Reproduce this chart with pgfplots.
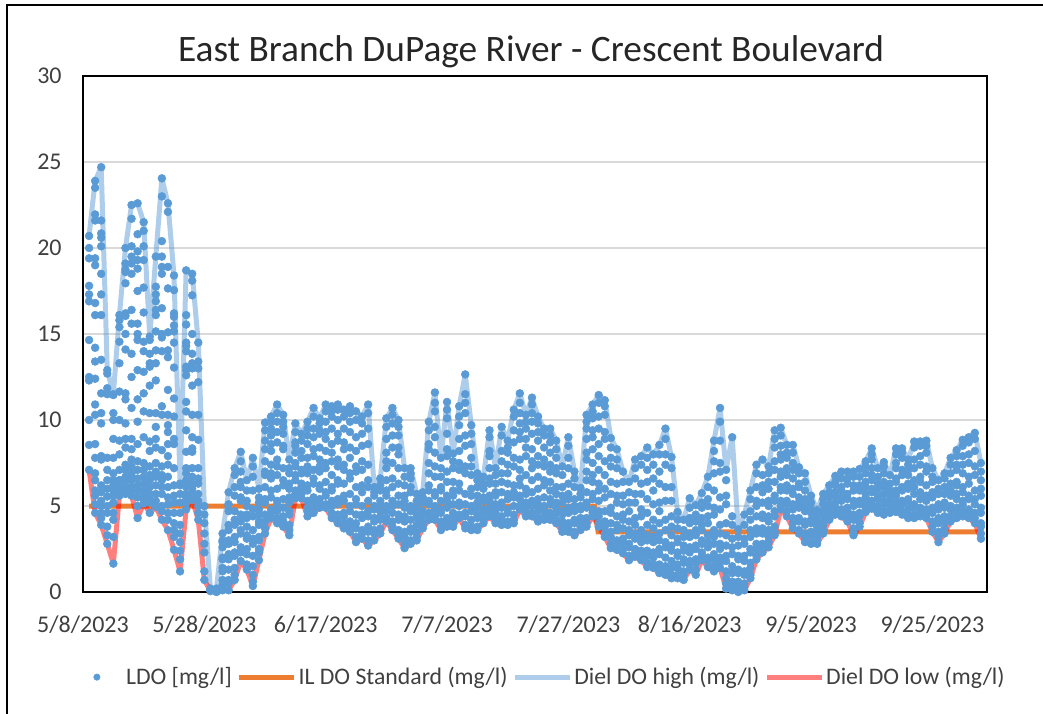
\documentclass[border=0pt]{standalone}
\usepackage{pgfplots}
\usepackage{pgfplotstable}
\usepackage{fontspec}
\setmainfont{Carlito}
\pgfplotsset{compat=1.18}
\definecolor{dots}{HTML}{5B9BD5}
\definecolor{std}{HTML}{ED7D31}
\definecolor{txt}{HTML}{404040}
\pgfplotstableread[header=false]{
1 20.7 7.1
2 23.9 4.6
3 24.7 3.9
4 12.9 2.8
5 11.5 1.65
6 16.1 5.6
7 20.0 5.7
8 22.5 5.6
9 22.6 4.3
10 21.5 5.15
11 14.85 4.6
12 19.5 4.95
13 24.05 4.2
14 22.6 3.6
15 18.4 2.45
16 6.3 1.2
17 18.7 4.8
18 18.5 5.35
19 14.5 4.2
20 5.0 0.7
21 0.2 0.05
22 0.2 0
23 3.4 0.1
24 5.8 0.1
25 7.2 0.7
26 8.15 1.8
27 6.5 1.3
28 7.8 0.35
29 6.0 1.85
30 9.85 3.4
31 10.2 4.3
32 10.9 4.0
33 10.3 3.8
34 7.7 3.3
35 9.8 5.45
36 9.2 5.45
37 9.9 4.4
38 10.7 4.6
39 10.1 4.9
40 10.9 4.9
41 10.8 4.3
42 10.9 4.0
43 10.6 3.7
44 10.8 3.5
45 10.5 2.9
46 10.2 3.1
47 10.9 2.7
48 6.1 3.0
49 6.6 3.4
50 10.1 4.1
51 10.7 3.6
52 10.0 3.1
53 7.2 2.55
54 7.2 2.8
55 5.7 3.0
56 5.8 3.7
57 9.9 4.2
58 11.6 4.2
59 7.8 3.6
60 11.05 3.8
61 8.05 3.8
62 10.8 4.3
63 12.65 3.7
64 9.7 3.6
65 6.9 3.6
66 6.7 4.0
67 9.4 4.4
68 7.2 4.0
69 9.6 3.9
70 8.8 3.9
71 10.6 4.0
72 11.55 4.8
73 10.3 4.4
74 11.3 4.4
75 10.2 4.1
76 9.5 4.2
77 9.5 4.2
78 8.8 4.0
79 7.3 3.5
80 9.0 3.5
81 7.0 3.3
82 6.05 3.6
83 10.3 3.8
84 10.9 4.4
85 11.45 3.8
86 11.15 3.2
87 8.95 2.55
88 8.3 2.45
89 7.0 2.25
90 6.4 1.85
91 7.7 2.05
92 7.9 1.85
93 8.4 1.45
94 8.0 1.4
95 8.55 1.1
96 9.5 1.0
97 7.85 0.8
98 4.65 0.8
99 4.2 0.7
100 5.45 1.3
101 5.05 1.0
102 5.75 1.85
103 6.7 1.45
104 8.8 1.2
105 10.7 1.4
106 7.1 0.2
107 9.0 0.1
108 3.65 0
109 4.5 0.1
110 5.9 0.8
111 7.4 1.9
112 7.7 2.3
113 7.3 2.6
114 9.4 3.3
115 9.55 4.8
116 8.55 4.4
117 8.55 3.7
118 7.25 3.4
119 6.9 2.9
120 5.6 2.8
121 4.75 2.8
122 5.7 3.4
123 6.2 4.2
124 6.75 4.5
125 7.0 4.4
126 7.0 4.1
127 7.0 3.3
128 7.15 3.8
129 7.6 4.65
130 8.35 4.85
131 7.2 4.6
132 7.55 4.5
133 6.8 4.6
134 8.35 4.65
135 8.35 4.5
136 7.7 4.3
137 8.75 4.3
138 8.75 4.4
139 8.8 4.3
140 7.2 3.5
141 6.5 2.9
142 6.9 3.4
143 7.8 4.1
144 8.25 4.3
145 8.85 4.4
146 9.0 4.3
147 9.25 4.0
148 7.5 3.1
}\tabHL
\pgfplotstableread[header=false]{
1 20.0 19.4 17.8 17.3 16.9 14.65 12.5 12.3 10.0 8.55 nan nan nan nan nan nan
2 23.5 21.95 21.6 19.4 19.0 16.8 16.1 14.2 13.4 12.4 10.9 10.3 8.6 7.8 6.5 5.6
3 21.6 20.85 20.6 20.1 18.5 17.3 16.1 13.5 11.55 10.4 9.8 7.9 7.7 6.2 5.3 4.6
4 12.7 11.85 11.5 7.8 6.5 5.55 4.6 3.8 3.3 nan nan nan nan nan nan nan
5 11.45 10.4 10 8.9 7.8 6.9 6.5 5.6 4.6 4.2 3.2 nan nan nan nan nan
6 15.8 15.4 14.55 13.3 11.65 10 8.8 8 6.5 6.1 nan nan nan nan nan nan
7 19.1 18.75 18.6 17.95 16.2 16.05 15 14.1 11.55 11.2 9.8 8.9 8.4 7.4 6.7 6.1
8 21.7 20.1 19.5 19.1 18.5 16.4 15.6 13.85 12.5 10.7 8.9 7.7 6.9 6.5 5.9 8.3
9 20.8 19.8 19.3 18.8 17.5 15.6 15 14.65 12.9 11.2 9.9 8.6 7.6 6.6 6.2 5.5
10 21 20.1 19.3 17.7 16.25 14.55 14 12.8 11.55 10.5 9 7.5 6.7 5.9 5.4 nan
11 14.65 13.85 13.3 13.1 12 10.4 8.75 8.2 7.3 6.5 5.7 5.2 nan nan nan nan
12 17.75 17.3 16.9 16.4 16.1 15.15 14.05 13.3 12.3 10.4 9.6 8.9 8.4 7.5 6.7 5.7
13 23 20.4 19.5 18.9 18.5 16.5 15 14.8 14 10.8 10.3 8.25 7.3 6.5 5.7 5.0
14 22.1 18.9 17.65 15.1 14.05 13.65 11.75 10.3 9.7 9.3 8.6 7.9 7.4 6.7 5.5 4.6
15 17.55 16.2 16 15.5 15.15 14.5 13.05 11.25 10.2 8.9 8.6 6.2 5.6 4.6 4 3.2
16 6.2 5.7 5.2 4.6 3.9 3.4 2.9 2.4 1.9 nan nan nan nan nan nan nan
17 16.1 15.55 14.5 14.3 14 13.1 12.9 12.6 11.05 10.5 9.4 8.15 7.2 6.5 5.7 5.2
18 18.1 17.25 15 13.85 13.3 13 12 10.3 9 8.35 8.15 7.2 6.3 5.7 nan nan
19 13.4 13 12.2 10.3 8.85 7.2 6.3 5.7 5 nan nan nan nan nan nan nan
20 4.5 4 3.4 2.8 2.3 1.2 nan nan nan nan nan nan nan nan nan nan
}\tabEarly
\pgfplotstableread[header=false]{
2 5.9 5.1 6.9
3 5.8 5.0 4.3
4 7.1 6.0 5.0
5 6.2 5.2 5.9
6 7.1 5.9 6.5
7 5.9 6.4 7.1
8 7.3 6.1 6.7
9 7.1 5.9 5.0
10 6.3 5.6 7.1
11 6.1 5.4 6.8
12 6.2 5.3 7.0
13 6.8 6.1 4.7
14 6.1 5.1 4.2
15 7.2 5.2 3.6
17 6.1 5.5 6.9
18 6.7 6.0 5.5
19 6.6 5.3 4.6
}\tabEarlyLow
\pgfplotstableread[header=false]{
21 .1 .1 .1 .1 nan nan nan nan nan nan nan nan
22 .1 .1 .1 .1 nan nan nan nan nan nan nan nan
23 .4 .7 1.2 1.4 1.9 2.0 2.6 2.9 3.0 nan nan nan
24 .5 .7 1.3 1.9 2.2 2.8 3.0 3.6 3.9 4.7 5.1 nan
25 1.0 1.4 2.1 2.3 2.9 3.2 3.9 4.2 4.7 5.6 6.1 6.8
26 2.3 2.6 3.4 3.6 4.1 4.5 5.3 5.5 6.1 6.4 7.0 7.6
27 1.6 2.2 2.5 3.1 3.3 3.8 4.3 4.5 5.0 5.3 5.9 nan
28 .6 1.0 1.5 2.1 2.8 3.1 3.6 4.4 4.8 5.9 6.7 7.3
29 2.3 2.5 3.0 3.2 3.9 4.1 4.5 4.8 5.2 5.5 nan nan
30 3.7 4.1 4.5 5.2 5.4 6.1 6.8 7.0 7.6 8.3 8.8 9.4
31 4.6 4.8 5.5 5.9 6.6 6.9 7.4 8.2 8.6 9.1 9.5 9.9
32 4.3 4.7 5.1 5.3 6.0 6.8 7.3 7.7 8.7 9.3 9.9 10.4
33 4.1 4.4 4.9 5.4 6.2 6.5 7.2 8.3 8.5 9.2 9.6 9.9
34 3.6 3.9 4.5 4.7 5.2 5.5 6.0 6.3 6.9 7.2 nan nan
35 5.7 5.9 6.5 6.8 7.3 7.5 8.1 8.5 8.7 9.3 nan nan
36 5.7 6.1 6.3 6.9 7.1 7.8 8.2 8.8 nan nan nan nan
37 4.7 4.9 5.3 5.9 6.2 6.9 7.3 7.8 8.6 9.1 9.5 nan
38 4.9 5.2 5.5 6.3 6.6 7.1 7.9 8.3 9.0 9.5 10.2 nan
39 5.1 5.4 6.0 6.2 7.0 7.3 7.7 8.4 9.2 9.4 9.8 nan
40 5.1 5.6 5.8 6.4 7.2 7.5 8.2 8.9 9.3 9.9 10.5 nan
41 4.6 5.0 5.3 5.9 6.1 6.8 7.6 8.1 8.6 9.5 10.2 10.5
42 4.3 4.5 5.1 5.4 6.3 6.5 7.3 7.7 8.8 9.2 10.0 10.6
43 4.0 4.4 4.6 5.3 5.6 6.3 7.1 7.4 8.3 8.7 9.5 10.2
44 3.9 4.1 4.7 5.0 5.7 6.6 6.9 7.8 8.4 9.3 9.9 10.4
45 3.2 3.7 4.0 4.5 5.1 5.4 6.1 7.0 7.3 8.2 9.0 10.0
46 3.4 3.6 4.3 4.5 5.0 5.8 6.2 7.1 7.6 8.5 9.2 9.8
47 3.0 3.5 3.8 4.4 4.7 5.3 6.1 6.5 7.4 8.6 9.5 10.4
48 3.4 3.6 4.1 4.3 4.8 5.0 5.6 5.8 nan nan nan nan
49 3.7 4.2 4.4 4.7 5.1 5.3 5.9 6.2 nan nan nan nan
50 4.3 4.7 5.0 5.6 5.9 6.5 7.2 7.6 8.1 8.9 9.6 nan
51 3.8 4.1 4.6 5.0 5.3 6.1 6.6 7.5 8.4 9.1 9.8 10.3
52 3.3 3.6 4.2 4.5 5.1 5.6 6.3 7.2 8.0 8.4 9.1 9.6
53 2.8 3.2 3.5 4.1 4.4 4.9 5.3 5.6 6.2 6.7 nan nan
54 3.0 3.5 3.7 4.2 4.7 5.0 5.8 6.1 6.6 6.9 nan nan
55 3.2 3.5 3.9 4.3 4.5 4.9 5.3 nan nan nan nan nan
56 3.9 4.1 4.5 4.7 5.2 5.5 nan nan nan nan nan nan
57 4.4 4.6 5.1 5.3 5.9 6.2 6.9 7.5 8.3 8.6 9.4 nan
58 4.4 4.8 5.0 5.6 5.8 6.7 7.3 8.1 9.0 9.6 10.5 11.0
59 3.9 4.1 4.6 4.8 5.3 5.9 6.1 6.7 7.2 nan nan nan
60 4.1 4.3 4.9 5.3 5.6 6.4 7.0 7.9 8.3 9.2 10.1 10.6
61 4.0 4.4 4.6 5.1 5.6 5.9 6.4 7.2 7.6 nan nan nan
62 4.5 5.0 5.2 5.9 6.3 7.1 7.5 8.2 8.9 9.7 10.2 nan
63 3.9 4.4 4.6 5.1 5.7 6.9 7.3 8.5 9.1 10.4 11.0 11.5
64 3.8 4.2 4.7 5.0 5.6 6.0 6.8 7.3 7.8 8.6 9.2 nan
65 3.8 4.3 4.5 4.9 5.2 5.6 6.1 6.5 nan nan nan nan
66 4.2 4.6 4.8 5.3 5.5 6.0 6.3 nan nan nan nan nan
67 4.6 4.9 5.3 5.6 6.3 6.6 7.2 7.9 8.2 9.0 nan nan
68 4.2 4.6 4.8 5.1 5.6 5.8 6.3 6.8 nan nan nan nan
69 4.1 4.4 4.9 5.2 5.8 6.4 6.9 7.6 8.2 9.1 nan nan
70 4.1 4.6 4.8 5.4 5.7 6.3 6.9 7.4 8.1 8.4 nan nan
71 4.2 4.5 5.0 5.5 5.8 6.2 7.3 7.8 8.7 9.4 10.2 nan
72 5.0 5.4 5.6 6.2 6.6 7.1 7.7 8.9 9.3 9.8 10.4 11.0
73 4.6 4.9 5.2 5.7 6.0 6.8 7.9 8.4 8.9 9.5 9.9 nan
74 4.6 5.0 5.3 5.8 6.5 7.2 7.6 8.3 9.2 9.9 10.4 10.9
75 4.3 4.7 5.1 5.4 6.0 6.7 7.4 7.9 8.8 9.3 9.8 nan
76 4.4 4.8 5.0 5.5 6.2 6.5 7.3 7.7 8.4 9.1 nan nan
77 4.4 4.6 5.1 5.4 5.9 6.4 7.0 7.4 8.1 8.7 9.1 nan
78 4.2 4.6 4.9 5.2 5.7 6.1 6.9 7.2 7.8 8.3 nan nan
79 3.7 4.1 4.5 4.7 5.2 5.6 6.1 6.8 nan nan nan nan
80 3.7 4.0 4.6 4.9 5.4 5.7 6.3 7.2 7.8 8.5 nan nan
81 3.5 4.0 4.2 4.7 5.0 5.4 6.1 6.6 nan nan nan nan
82 3.8 4.1 4.3 4.8 5.0 5.5 5.7 nan nan nan nan nan
83 4.0 4.3 4.9 5.2 5.8 6.5 7.0 7.7 8.1 8.9 9.5 9.9
84 4.6 4.8 5.4 5.7 6.4 6.8 7.5 8.3 9.0 9.4 10.1 10.5
85 4.0 4.4 4.7 5.3 5.9 6.3 7.1 7.9 8.6 9.5 10.2 11.0
86 3.4 3.8 4.1 4.7 5.5 6.0 6.8 7.6 8.9 9.3 10.3 10.8
87 2.8 3.2 3.5 4.0 4.6 4.9 5.7 6.4 7.3 7.8 8.4 nan
88 2.7 3.0 3.6 3.9 4.4 5.2 5.6 6.3 7.2 7.7 nan nan
89 2.5 2.9 3.1 3.7 4.2 4.5 5.1 5.6 6.4 nan nan nan
90 2.1 2.6 2.8 3.3 3.6 4.1 4.7 5.2 5.8 nan nan nan
91 2.3 2.5 3.1 3.4 3.9 4.3 5.2 5.7 6.6 7.2 nan nan
92 2.1 2.4 2.9 3.2 3.6 4.4 4.8 5.7 6.3 7.4 nan nan
93 1.7 2.1 2.4 3.0 3.3 3.9 4.6 5.4 6.4 7.1 7.8 nan
94 1.6 2.0 2.3 2.9 3.2 3.7 4.2 5.1 5.9 6.6 7.4 nan
95 1.3 1.6 2.2 2.5 3.0 3.4 4.0 4.7 5.2 6.3 7.0 8.0
96 1.2 1.5 2.0 2.6 2.9 3.6 4.2 5.3 6.1 7.4 8.0 8.9
97 1.0 1.4 1.8 2.4 2.7 3.3 3.8 4.4 5.3 6.1 7.2 nan
98 1.0 1.4 1.6 2.1 2.3 2.9 3.1 3.7 4.2 nan nan nan
99 1.0 1.2 1.7 1.9 2.4 2.7 3.2 3.6 nan nan nan nan
100 1.6 1.8 2.3 2.6 3.2 3.4 4.0 4.3 4.9 nan nan nan
101 1.3 1.7 1.9 2.5 2.7 3.3 3.6 4.1 4.5 nan nan nan
102 2.1 2.3 2.8 3.0 3.6 3.9 4.3 4.9 5.2 nan nan nan
103 1.8 2.0 2.6 2.9 3.3 4.0 4.4 5.0 5.4 6.1 nan nan
104 1.5 1.9 2.2 2.8 3.2 3.6 4.5 4.9 5.9 6.9 7.6 8.2
105 1.7 2.0 2.5 2.8 3.4 3.9 4.8 5.5 7.0 7.5 8.8 9.9
106 .5 .8 1.2 1.8 2.1 2.7 3.3 4.0 5.1 5.6 6.5 nan
107 .3 .6 1.1 1.5 2.2 2.6 3.1 3.9 4.4 nan nan nan
108 .2 .4 .6 1.1 1.3 1.9 2.1 2.7 3.2 nan nan nan
109 .3 .5 1.0 1.2 1.8 2.1 2.8 3.1 3.9 nan nan nan
110 1.0 1.4 1.7 2.3 2.5 3.2 3.6 4.2 4.7 5.4 nan nan
111 2.1 2.5 2.8 3.4 3.7 4.4 5.0 5.3 6.1 6.9 nan nan
112 2.6 2.8 3.4 3.7 4.3 4.5 5.2 5.8 6.2 6.8 nan nan
113 2.9 3.2 3.6 4.1 4.4 5.0 5.3 6.0 6.4 6.9 nan nan
114 3.5 3.8 4.4 4.7 5.3 5.6 6.4 7.1 7.6 8.4 8.9 nan
115 5.0 5.3 5.9 6.1 6.7 7.0 7.7 8.0 8.5 9.1 nan nan
116 4.7 5.1 5.3 5.9 6.2 6.8 7.2 7.8 8.1 nan nan nan
117 4.0 4.3 4.8 5.1 5.7 6.0 6.6 7.1 7.5 8.1 nan nan
118 3.6 4.1 4.3 4.9 5.2 5.5 6.1 6.3 6.9 nan nan nan
119 3.1 3.4 3.9 4.1 4.7 5.0 5.4 5.9 6.4 nan nan nan
120 2.9 3.3 3.5 4.0 4.2 4.6 4.8 5.2 nan nan nan nan
121 3.0 3.2 3.6 3.8 4.1 4.4 nan nan nan nan nan nan
122 3.6 3.9 4.1 4.5 4.7 5.1 5.4 nan nan nan nan nan
123 4.4 4.6 4.9 5.1 5.5 5.8 nan nan nan nan nan nan
124 4.7 4.9 5.2 5.6 5.8 6.2 6.4 nan nan nan nan nan
125 4.6 4.8 5.3 5.5 5.9 6.1 6.6 nan nan nan nan nan
126 4.3 4.7 4.9 5.4 5.7 6.3 6.6 nan nan nan nan nan
127 3.5 3.7 4.2 4.5 5.0 5.3 5.9 6.2 6.7 nan nan nan
128 4.0 4.4 4.6 5.1 5.3 5.9 6.2 6.7 nan nan nan nan
129 4.9 5.1 5.5 5.7 6.1 6.4 6.9 7.3 nan nan nan nan
130 5.1 5.3 5.8 6.0 6.5 6.8 7.2 7.7 8.0 nan nan nan
131 4.8 5.0 5.4 5.6 6.0 6.3 6.7 nan nan nan nan nan
132 4.7 5.1 5.3 5.7 6.1 6.4 6.9 7.3 nan nan nan nan
133 4.8 5.1 5.3 5.6 5.9 6.3 nan nan nan nan nan nan
134 4.9 5.2 5.6 5.9 6.4 6.6 7.2 7.5 8.0 nan nan nan
135 4.7 5.1 5.3 5.9 6.1 6.8 7.1 7.8 8.1 nan nan nan
136 4.5 4.8 5.2 5.4 6.0 6.3 6.8 7.1 7.4 nan nan nan
137 4.5 4.9 5.1 5.7 6.1 6.5 7.2 7.7 8.4 nan nan nan
138 4.6 4.9 5.4 5.8 6.4 6.7 7.4 7.9 8.5 nan nan nan
139 4.5 4.8 5.3 5.6 6.2 7.0 7.3 8.1 8.5 nan nan nan
140 3.8 4.1 4.6 4.9 5.5 5.8 6.4 6.7 nan nan nan nan
141 3.2 3.5 4.0 4.3 4.8 5.1 5.7 6.0 nan nan nan nan
142 3.7 4.1 4.4 4.9 5.2 5.7 6.1 6.6 nan nan nan nan
143 4.4 4.8 5.0 5.6 5.9 6.3 6.9 7.4 nan nan nan nan
144 4.6 4.9 5.4 5.7 6.2 6.4 7.1 7.4 7.9 nan nan nan
145 4.7 5.1 5.3 5.8 6.1 6.9 7.4 7.9 8.5 nan nan nan
146 4.6 4.8 5.4 5.6 6.3 6.7 7.5 8.0 8.7 nan nan nan
147 4.3 4.6 5.1 5.4 5.9 6.8 7.3 8.2 8.9 nan nan nan
148 3.4 3.8 4.0 4.6 4.9 5.6 6.0 6.5 7.0 nan nan nan
}\tabDots
\pgfplotstableread[header=false]{
1 5
84.3 5
84.9 3.5
147.5 3.5
}\tabStd
\begin{document}
\begin{tikzpicture}
\path[use as bounding box] (-62.25pt,-91.5pt) rectangle (720pt,444pt);
\begin{axis}[
  at={(0pt,0pt)}, anchor=south west,
  scale only axis, width=678pt, height=387pt,
  xmin=0, xmax=149, ymin=0, ymax=30,
  clip=false,
  xtick={0,20,40,60,80,100,120,140},
  xticklabels={5/8/2023,5/28/2023,6/17/2023,7/7/2023,7/27/2023,8/16/2023,9/5/2023,9/25/2023},
  ytick={0,5,10,15,20,25,30},
  major tick length=0pt,
  ymajorgrids,
  grid style={color=black!15, line width=1.6pt},
  axis line style={black, line width=1.5pt},
  tick label style={font=\fontsize{18}{20}\selectfont, text=txt, /pgf/number format/assume math mode=true},
  xticklabel style={yshift=-14.5pt},
  yticklabel style={xshift=-12.5pt},
  title={East Branch DuPage River - Crescent Boulevard},
  title style={at={(0.4956,1)}, anchor=center, yshift=12.5pt, font=\fontsize{28}{32}\selectfont, text=black!85},
  legend columns=4,
  legend style={at={(0.5034,-0.165)}, anchor=center, draw=none, fill=none,
    font=\fontsize{17.8}{20}\selectfont, text=txt, inner sep=0pt,
    nodes={inner xsep=1.5pt},
    /tikz/every even column/.append style={column sep=2.25pt}},
  legend cell align=left,
  legend image code/.code={\draw[#1] (0pt,0pt) -- (41pt,0pt);},
]
\addplot[forget plot, std, line width=3.75pt] table[x index=0,y index=1] \tabStd;
\addplot[forget plot, dots, opacity=0.5, line width=3.75pt, line join=round] table[x index=0,y index=1] \tabHL;
\addplot[forget plot, red, opacity=0.5, line width=3.75pt, line join=round] table[x index=0,y index=2] \tabHL;
\addplot[forget plot, only marks, mark=*, mark size=2.95pt, dots, mark options={draw=dots,fill=dots}] table[x index=0,y index=1] \tabHL;
\addplot[forget plot, only marks, mark=*, mark size=2.95pt, dots, mark options={draw=dots,fill=dots}] table[x index=0,y index=2] \tabHL;
\pgfplotsinvokeforeach{1,...,16}{
  \addplot[forget plot, only marks, mark=*, mark size=2.95pt, dots, mark options={draw=dots,fill=dots}] table[x index=0,y index=#1] \tabEarly;
}
\pgfplotsinvokeforeach{1,...,3}{
  \addplot[forget plot, only marks, mark=*, mark size=2.95pt, dots, mark options={draw=dots,fill=dots}] table[x index=0,y index=#1] \tabEarlyLow;
}
\pgfplotsinvokeforeach{1,...,12}{
  \addplot[forget plot, only marks, mark=*, mark size=2.95pt, dots, mark options={draw=dots,fill=dots}] table[x index=0,y index=#1] \tabDots;
}
\addlegendimage{legend image code/.code={\path[draw=none] (0pt,0pt) -- (41pt,0pt);\fill[dots] (20.6pt,0pt) circle (2.4pt);}}
\addlegendentry{LDO [mg/l]}
\addlegendimage{std, line width=3.75pt}
\addlegendentry{IL DO Standard (mg/l)}
\addlegendimage{dots, opacity=0.5, line width=3.75pt}
\addlegendentry{Diel DO high (mg/l)}
\addlegendimage{red, opacity=0.5, line width=3.75pt}
\addlegendentry{Diel DO low (mg/l)}
\end{axis}
\draw[black, line width=1.5pt] (-57pt,-91.5pt) -- (-57pt,440.25pt) -- (720pt,440.25pt);
\end{tikzpicture}
\end{document}
